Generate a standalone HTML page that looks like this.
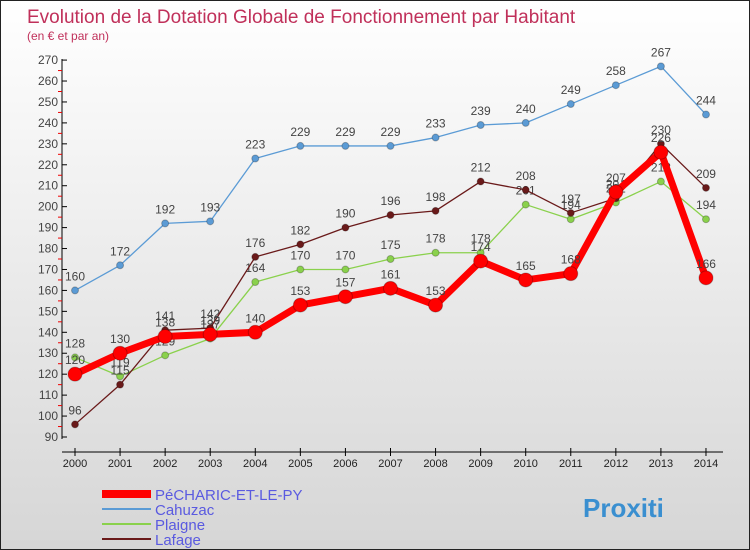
<!DOCTYPE html>
<html><head><meta charset="utf-8"><style>
body{margin:0;}
#c{width:748px;height:548px;border:1px solid #222;background:linear-gradient(#fff,#d6d6d6);position:relative;font-family:"Liberation Sans",sans-serif;overflow:hidden}
</style></head><body>
<div id="c">
<svg id="s" width="748" height="548" xmlns="http://www.w3.org/2000/svg">
<text x="26" y="22" font-size="19" fill="#c0305a">Evolution de la Dotation Globale de Fonctionnement par Habitant</text>
<text x="26" y="39" font-size="12" fill="#c0305a">(en € et par an)</text>
</svg>
</div>
<script>
const years=[2000,2001,2002,2003,2004,2005,2006,2007,2008,2009,2010,2011,2012,2013,2014];
const yTicks=[90,100,110,120,130,140,150,160,170,180,190,200,210,220,230,240,250,260,270];
const pecharic=[120,130,138,139,140,153,157,161,153,174,165,168,207,226,166];
const cahuzac=[160,172,192,193,223,229,229,229,233,239,240,249,258,267,244];
const plaigne=[128,119,129,137,164,170,170,175,178,178,201,194,202,212,194];
const lafage=[96,115,141,142,176,182,190,196,198,212,208,197,204,230,209];
const NS="http://www.w3.org/2000/svg";
const s=document.getElementById('s');
const X=i=>74+i*45.07;
const Y=v=>436-(v-90)*2.094;
function el(t,a,p){const e=document.createElementNS(NS,t);for(const k in a)e.setAttribute(k,a[k]);(p||s).appendChild(e);return e;}
let ax=el('line',{x1:61,y1:58,x2:61,y2:438,stroke:'#000'});


yTicks.forEach((v,i)=>{
 el('line',{x1:61,x2:66,y1:Y(v),y2:Y(v),stroke:'#000'});
 if(i<yTicks.length-1) el('line',{x1:57,x2:61,y1:Y(v+5),y2:Y(v+5),stroke:'#e00'});
 const t=el('text',{x:57,y:Y(v)+4,'font-size':12,'text-anchor':'end',fill:'#444'});t.textContent=v;
 
 
});
let xa=el('line',{x1:61,y1:451,x2:722,y2:451,stroke:'#000'});


years.forEach((y,i)=>{
 el('line',{x1:X(i),x2:X(i),y1:447,y2:455,stroke:'#000'});
 const t=el('text',{x:X(i),y:466,'font-size':11,'text-anchor':'middle',fill:'#222'});t.textContent=y;
 
 
});
function series(d,col,w,r,name){
 const g=el('g',{});
 
 
 el('polyline',{points:d.map((v,i)=>X(i)+','+Y(v)).join(' '),fill:'none',stroke:col,'stroke-width':w,'stroke-linejoin':'round'},g);
 d.forEach((v,i)=>{
  const c=el('circle',{cx:X(i),cy:Y(v),r:r,fill:col,stroke:'rgba(0,0,0,0.25)'},g);
  
  
  const t=el('text',{x:X(i),y:Y(v)-10,'font-size':12,'text-anchor':'middle',fill:'#444'},g);t.textContent=v;
  
  
 });
}
series(cahuzac,'#5b9bd5',1.3,3.5,'series-cahuzac');
series(plaigne,'#8ad14c',1.3,3.5,'series-plaigne');
series(lafage,'#6a1a1a',1.3,3.5,'series-lafage');
series(pecharic,'#f00',7,7,'series-pecharic');
const legend=[['PéCHARIC-ET-LE-PY','#f00',8],['Cahuzac','#5b9bd5',2],['Plaigne','#8ad14c',2],['Lafage','#6a1a1a',2]];
legend.forEach((l,i)=>{
 const y=493+i*15;
 const g=el('g',{});
 
 
 el('line',{x1:101,x2:150,y1:y,y2:y,stroke:l[1],'stroke-width':l[2]},g);
 const t=el('text',{x:154,y:y+6,'font-size':15,fill:'#5a5ae0'},g);t.textContent=l[0];
});
const lg=el('text',{x:582,y:516,'font-size':26,'font-weight':'bold',fill:'#3a8fd0'});
lg.textContent='Proxiti';


</script>
</body></html>
